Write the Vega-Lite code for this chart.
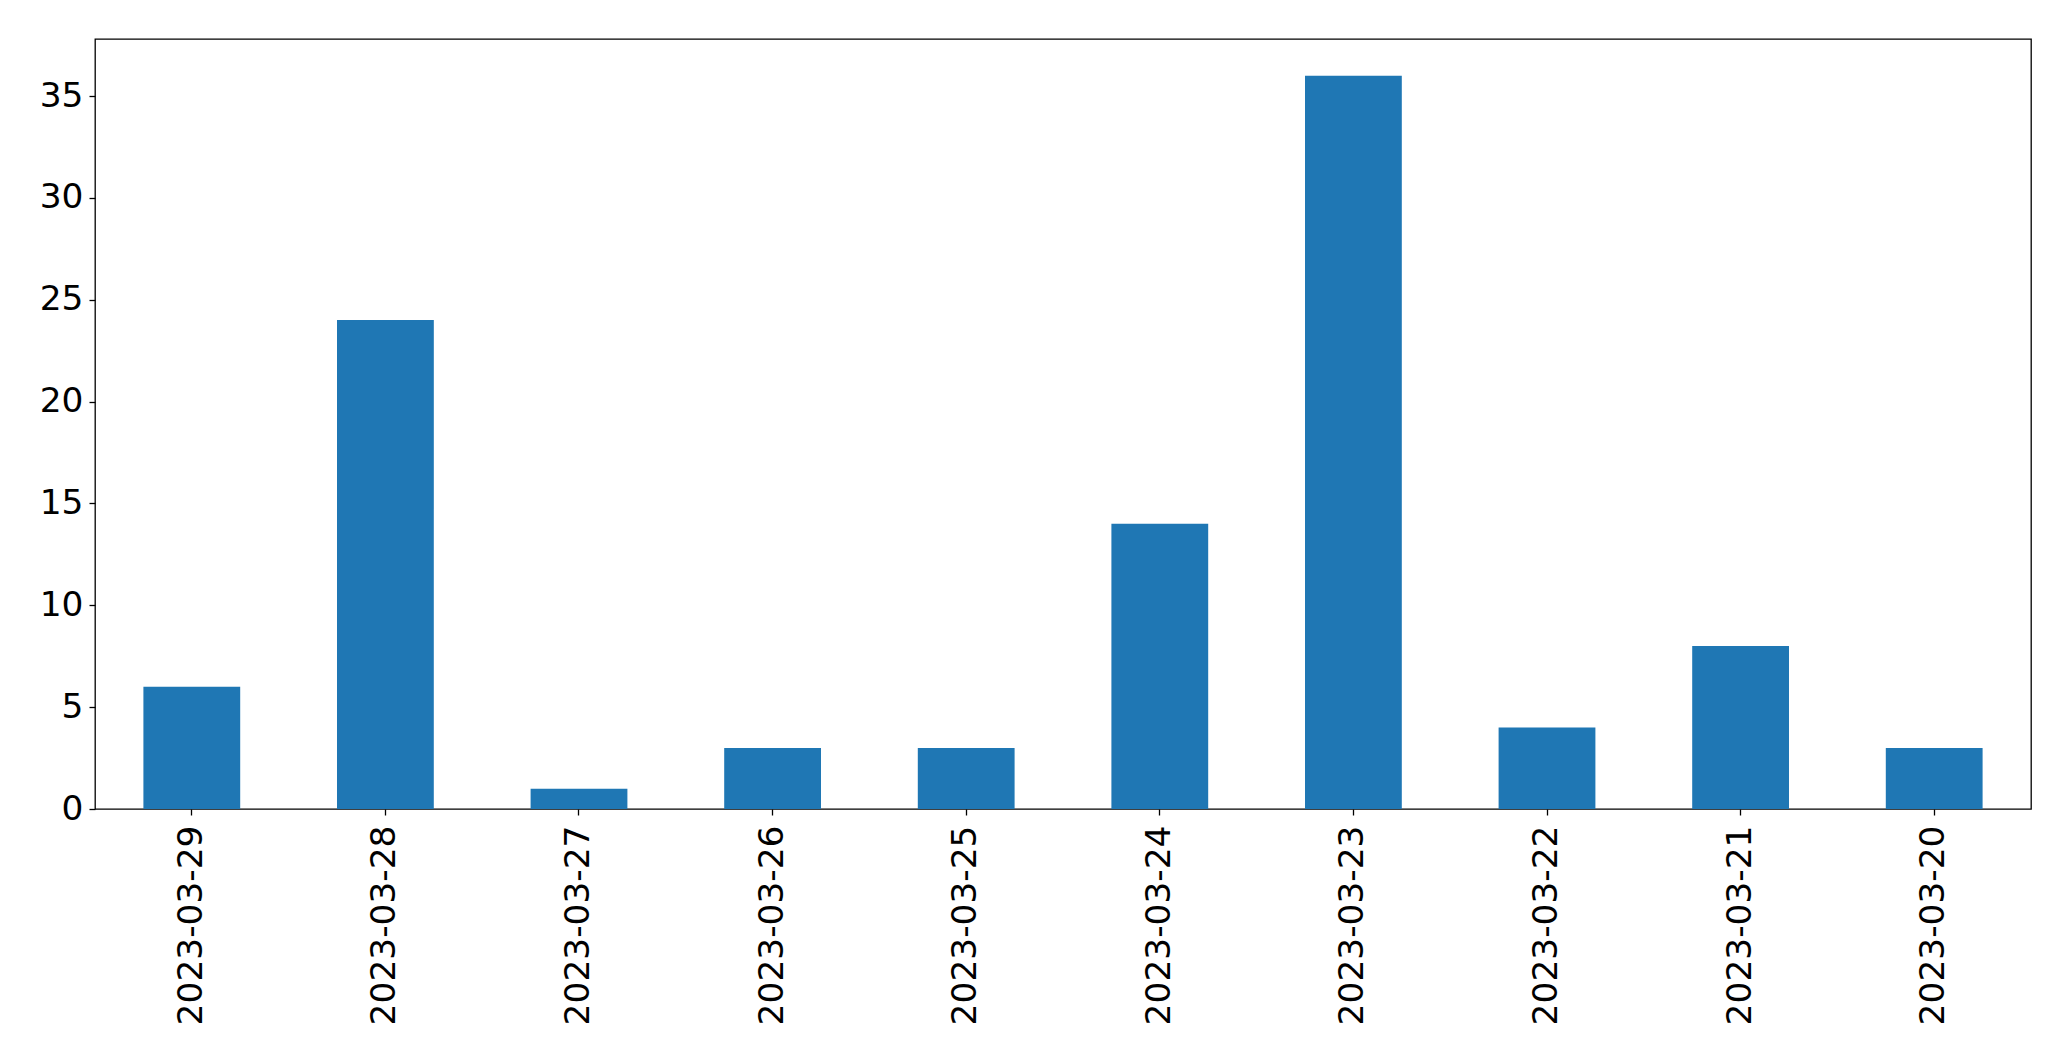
{
  "$schema": "https://vega.github.io/schema/vega-lite/v6.json",
  "width": 1936,
  "height": 770,
  "padding": {"left": 95, "top": 39, "right": 40, "bottom": 252},
  "autosize": {"type": "none"},
  "background": "white",
  "config": {
    "view": {"stroke": "black", "strokeWidth": 1.3},
    "axis": {"labelFont": "DejaVu Sans", "labelFontSize": 34.4, "labelColor": "black", "tickColor": "black", "tickSize": 6, "tickWidth": 1.3, "domain": false, "grid": false, "title": null, "labelLimit": 400}
  },
  "data": {"values": [
    {"date": "2023-03-29", "count": 6},
    {"date": "2023-03-28", "count": 24},
    {"date": "2023-03-27", "count": 1},
    {"date": "2023-03-26", "count": 3},
    {"date": "2023-03-25", "count": 3},
    {"date": "2023-03-24", "count": 14},
    {"date": "2023-03-23", "count": 36},
    {"date": "2023-03-22", "count": 4},
    {"date": "2023-03-21", "count": 8},
    {"date": "2023-03-20", "count": 3}
  ]},
  "mark": {"type": "bar", "color": "#1f77b4"},
  "encoding": {
    "x": {"field": "date", "type": "nominal", "sort": null,
      "scale": {"paddingInner": 0.5, "paddingOuter": 0.25},
      "axis": {"labelAngle": -90, "labelPadding": 10, "labelAlign": "right", "labelBaseline": "middle"}},
    "y": {"field": "count", "type": "quantitative",
      "scale": {"domain": [0, 37.8], "nice": false},
      "axis": {"values": [0, 5, 10, 15, 20, 25, 30, 35], "labelPadding": 6, "labelBaseline": "middle"}}
  }
}
